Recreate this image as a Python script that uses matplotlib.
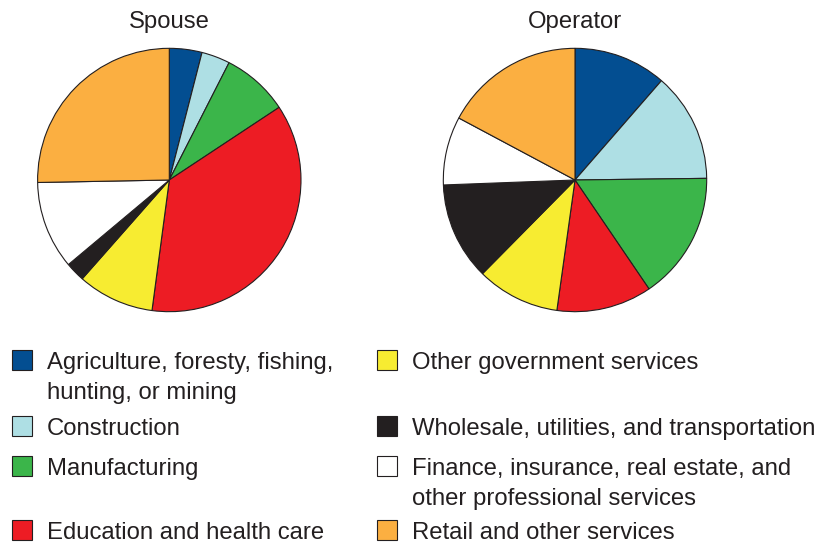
import matplotlib
matplotlib.use("Agg")
import matplotlib.pyplot as plt
from matplotlib.patches import Rectangle

plt.rcParams['font.family'] = ['Liberation Sans', 'DejaVu Sans']

categories = [
    "Agriculture, foresty, fishing,\nhunting, or mining",
    "Construction",
    "Manufacturing",
    "Education and health care",
    "Other government services",
    "Wholesale, utilities, and transportation",
    "Finance, insurance, real estate, and\nother professional services",
    "Retail and other services",
]
colors = ["#034E91", "#AEDFE4", "#3BB54A", "#ED1C24",
          "#F7EC31", "#231F20", "#FFFFFF", "#FBAF41"]

spouse = [4.0, 3.5, 8.2, 36.4, 9.4, 2.4, 10.8, 25.3]
operator = [11.4, 13.4, 15.7, 11.7, 10.2, 12.0, 8.4, 17.2]
titles = ["Spouse", "Operator"]

W, H = 817, 550
fig = plt.figure(figsize=(W / 100, H / 100), dpi=100)
ink = "#231F20"
fs = 17.2

r = 133
centers = [(169.3, 180), (575.0, 180)]
for (cx, cy), vals, title in zip(centers, [spouse, operator], titles):
    ax = fig.add_axes([(cx - r) / W, (H - cy - r) / H, 2 * r / W, 2 * r / H])
    ax.pie(vals, colors=colors, startangle=90, counterclock=False, radius=1,
           wedgeprops=dict(edgecolor=ink, linewidth=0.8))
    ax.set_xlim(-1.01, 1.01)
    ax.set_ylim(-1.01, 1.01)
    ax.set_aspect('equal')
    ax.axis('off')
    fig.text(cx / W, 1 - 28 / H, title, ha='center', va='baseline',
             fontsize=fs, color=ink)

# legend, laid out as in the reference (two columns, aligned rows)
left_col = [0, 1, 2, 3]
right_col = [4, 5, 6, 7]
row_y = [360, 426, 466, 530]
for col, xs, xt in [(left_col, 12, 47), (right_col, 377, 412)]:
    for idx, y in zip(col, row_y):
        fig.patches.append(Rectangle((xs / W, 1 - (y + 10) / H), 20 / W, 20 / H,
                                     transform=fig.transFigure,
                                     facecolor=colors[idx], edgecolor=ink,
                                     linewidth=0.8))
        fig.text(xt / W, 1 - (y - 8) / H, categories[idx], ha='left',
                 va='top', fontsize=fs, color=ink, linespacing=1.5)

fig.savefig("out.png", dpi=100)
